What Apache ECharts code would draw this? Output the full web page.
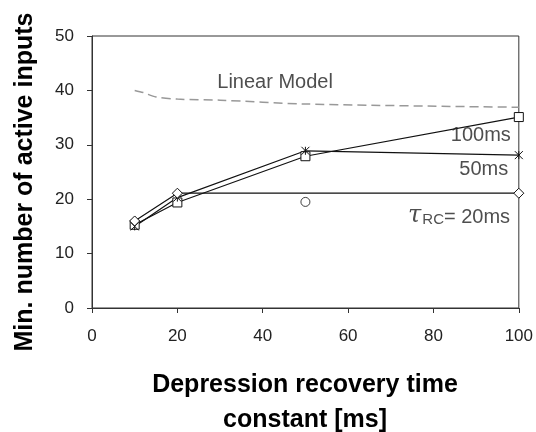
<!DOCTYPE html>
<html>
<head>
<meta charset="utf-8">
<script src="https://cdn.jsdelivr.net/npm/echarts@6/dist/echarts.min.js"></script>
<style>
  html, body { margin: 0; padding: 0; background: #fff; }
  #chart { width: 536px; height: 432px; }
</style>
</head>
<body>
<div id="chart"></div>
<script>
// 数据
const xTicks = [0, 20, 40, 60, 80, 100];
const yTicks = [0, 10, 20, 30, 40, 50];

const linearX = [10, 12, 15, 20, 30, 50, 100];
const linearY = [40, 39.6, 38.8, 38.4, 38.2, 37.5, 36.9];

const recoveryX = [10, 20, 50, 100];
const tau100 = [15.3, 19.4, 27.9, 35.1];
const tau50 = [15.0, 20.3, 28.9, 28.1];

const tau20X = [10, 20, 100];
const tau20 = [16.0, 21.1, 21.1];

const extraX = [50];
const extraY = [19.5];

// 曲线标签 (数据坐标)
const labelText = ['Linear Model', '100ms', '50ms', 'tau20'];
const labelX = [42.9, 91.1, 91.8, 86.0];
const labelY = [41.4, 31.8, 25.4, 17.1];

function pairs(xs, ys) {
    return xs.map(function (x, i) { return [x, ys[i]]; });
}

const font = '"Liberation Sans", Arial, sans-serif';
const ink = '#111';

const chart = echarts.init(document.getElementById('chart'));

const lineBase = {
    type: 'line',
    animation: false,
    lineStyle: { color: ink, width: 1.2 },
    itemStyle: { color: '#fff', borderColor: ink, borderWidth: 1 },
    z: 3
};

const option = {
    animation: false,
    grid: {
        left: 92, right: 17, top: 36, bottom: 124,
        show: true, borderColor: '#333', borderWidth: 1
    },
    xAxis: {
        type: 'value',
        min: xTicks[0], max: xTicks[xTicks.length - 1], interval: 20,
        axisLine: { lineStyle: { color: '#333', width: 1 } },
        axisTick: { length: 5, lineStyle: { color: '#333' } },
        splitLine: { show: false },
        axisLabel: { margin: 20, fontSize: 17, color: '#222', fontFamily: font }
    },
    yAxis: {
        type: 'value',
        min: yTicks[0], max: yTicks[yTicks.length - 1], interval: 10,
        axisLine: { show: true, lineStyle: { color: '#333', width: 1 } },
        axisTick: { show: true, length: 5, lineStyle: { color: '#333' } },
        splitLine: { show: false },
        axisLabel: { margin: 18, fontSize: 17, color: '#222', fontFamily: font }
    },
    graphic: [
        {
            type: 'text', x: 25, y: 182, rotation: Math.PI / 2,
            style: {
                text: 'Min. number of active inputs',
                font: 'bold 25px ' + font, fill: '#000',
                textAlign: 'center', textVerticalAlign: 'middle'
            }
        },
        {
            type: 'text', x: 305, y: 385,
            style: {
                text: 'Depression recovery time',
                font: 'bold 25px ' + font, fill: '#000',
                textAlign: 'center', textVerticalAlign: 'middle'
            }
        },
        {
            type: 'text', x: 305, y: 420,
            style: {
                text: 'constant [ms]',
                font: 'bold 25px ' + font, fill: '#000',
                textAlign: 'center', textVerticalAlign: 'middle'
            }
        }
    ],
    series: [
        {
            type: 'line',
            data: pairs(linearX, linearY),
            showSymbol: false,
            smooth: 0.3,
            lineStyle: { color: '#999', width: 1.5, type: [9, 5] },
            z: 2
        },
        Object.assign({}, lineBase, {
            data: pairs(recoveryX, tau100),
            symbol: 'rect', symbolSize: 9
        }),
        Object.assign({}, lineBase, {
            data: pairs(recoveryX, tau50),
            symbol: 'path://M0,0L10,10M10,0L0,10M5,0L5,10',
            symbolSize: 8,
            itemStyle: { color: 'none', borderColor: ink, borderWidth: 1 }
        }),
        Object.assign({}, lineBase, {
            data: pairs(tau20X, tau20),
            symbol: 'diamond', symbolSize: 10
        }),
        {
            type: 'scatter',
            data: pairs(extraX, extraY),
            symbol: 'circle', symbolSize: 9,
            itemStyle: { color: '#fff', borderColor: ink, borderWidth: 1 },
            z: 3
        },
        {
            type: 'scatter',
            data: labelX.map(function (x, i) { return [x, labelY[i], labelText[i]]; }),
            symbolSize: 0,
            silent: true,
            z: 4,
            label: {
                show: true,
                position: 'inside',
                fontFamily: font,
                fontSize: 20,
                color: '#222',
                formatter: function (p) {
                    if (p.value[2] === 'tau20') {
                        return '{tau|τ}{sub|RC}{txt|= 20ms}';
                    }
                    return p.value[2];
                },
                rich: {
                    tau: { fontFamily: '"DejaVu Serif", serif', fontStyle: 'italic', fontSize: 24, color: '#222', lineHeight: 24, verticalAlign: 'bottom' },
                    sub: { fontFamily: font, fontSize: 15, color: '#222', padding: [10, 0, 0, 1], verticalAlign: 'bottom' },
                    txt: { fontFamily: font, fontSize: 20, color: '#222', verticalAlign: 'bottom' }
                }
            }
        }
    ]
};

chart.setOption(option);
</script>
</body>
</html>
